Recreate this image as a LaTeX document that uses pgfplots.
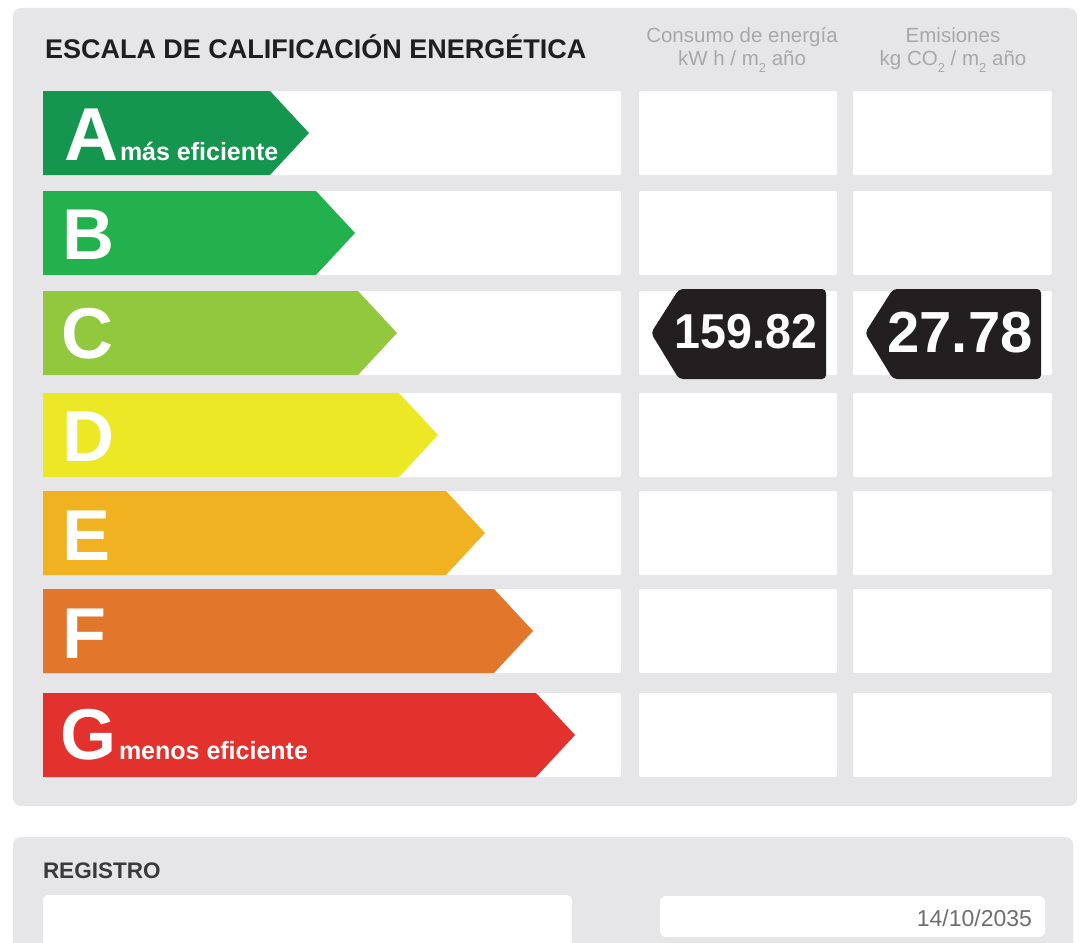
\documentclass[border=0pt]{standalone}
\usepackage{pgfplots}
\pgfplotsset{compat=1.18}
\usepackage{fontspec}
\setmainfont{Liberation Sans}
\definecolor{panel}{RGB}{230,230,232}
\definecolor{colA}{RGB}{20,150,78}
\definecolor{colB}{RGB}{34,177,76}
\definecolor{colC}{RGB}{146,200,62}
\definecolor{colD}{RGB}{236,232,38}
\definecolor{colE}{RGB}{240,178,32}
\definecolor{colF}{RGB}{226,118,42}
\definecolor{colG}{RGB}{227,49,45}
\definecolor{badge}{RGB}{35,31,32}
\definecolor{hdr}{RGB}{168,168,170}
\definecolor{reg}{RGB}{58,58,60}
\definecolor{datec}{RGB}{110,110,112}
\newcommand\rowboxes[2]{%
  \fill[white,rounded corners=2pt] (43,#1) rectangle (621,#2);
  \fill[white,rounded corners=2pt] (639,#1) rectangle (837,#2);
  \fill[white,rounded corners=2pt] (853,#1) rectangle (1052,#2);}
\newcommand\lowtwo{\raisebox{-7pt}{\fontsize{13}{13}\selectfont 2}}
\newsavebox\titlebox
\newsavebox\masbox
\newsavebox\menosbox
\newsavebox\consbox
\newsavebox\unitAbox
\newsavebox\unitBbox
\tikzset{lab/.style={inner sep=0pt,outer sep=0pt},
  big/.style={lab,font=\bfseries\fontsize{72}{72}\selectfont,text=white,anchor=base west},
  sub/.style={lab,anchor=base west}}
\begin{document}
\sbox\titlebox{\bfseries\fontsize{27}{30}\selectfont\color{black!88}ESCALA DE CALIFICACIÓN ENERGÉTICA}%
\sbox\masbox{\bfseries\fontsize{25}{27}\selectfont\color{white}más eficiente}%
\sbox\menosbox{\bfseries\fontsize{25}{27}\selectfont\color{white}menos eficiente}%
\sbox\consbox{\fontsize{20.5}{24}\selectfont\color{hdr}Consumo de energía}%
\sbox\unitAbox{\fontsize{20.5}{24}\selectfont\color{hdr}kW h / m\lowtwo{} año}%
\sbox\unitBbox{\fontsize{20.5}{24}\selectfont\color{hdr}kg CO\lowtwo{} / m\lowtwo{} año}%
\begin{tikzpicture}
\begin{axis}[x=1pt,y=1pt,y dir=reverse,xmin=0,xmax=1089,ymin=0,ymax=942,
  hide axis,scale only axis,clip=false,anchor=south west,at={(0,0)}]
\coordinate (P1) at (0,0);
\coordinate (P2) at (1089,942);
\fill[white] (0,0) rectangle (1089,942);
% panels
\fill[panel,rounded corners=8pt] (13,8) rectangle (1077,806);
\fill[panel,rounded corners=8pt] (13,837) rectangle (1073,975);
% row boxes
\rowboxes{91}{175}
\rowboxes{191}{275}
\rowboxes{291}{375}
\rowboxes{393}{477}
\rowboxes{491}{575}
\rowboxes{589}{673}
\rowboxes{693}{777}
% arrows (class scale)
\addplot[fill=colA,draw=none] coordinates {(43,91) (270,91) (309,133) (270,175) (43,175)} -- cycle;
\addplot[fill=colB,draw=none] coordinates {(43,191) (316,191) (355,233) (316,275) (43,275)} -- cycle;
\addplot[fill=colC,draw=none] coordinates {(43,291) (358,291) (397,333) (358,375) (43,375)} -- cycle;
\addplot[fill=colD,draw=none] coordinates {(43,393) (399,393) (438,435) (399,477) (43,477)} -- cycle;
\addplot[fill=colE,draw=none] coordinates {(43,491) (446,491) (485,533) (446,575) (43,575)} -- cycle;
\addplot[fill=colF,draw=none] coordinates {(43,589) (494,589) (533,631) (494,673) (43,673)} -- cycle;
\addplot[fill=colG,draw=none] coordinates {(43,693) (536,693) (575,735) (536,777) (43,777)} -- cycle;
% letters
\node[big,font=\bfseries\fontsize{75}{75}\selectfont] at (64,160) {A};
\node[sub] at (120,160) {\usebox\masbox};
\node[big] at (62,259) {B};
\node[big] at (61,358) {C};
\node[big] at (62,461) {D};
\node[big] at (62,560) {E};
\node[big] at (62,658) {F};
\node[big] at (60,759) {G};
\node[sub] at (119,759) {\usebox\menosbox};
% title and headers
\node[lab,anchor=base west] at (45,59) {\usebox\titlebox};
\node[lab,anchor=base] at (742,43) {\usebox\consbox};
\node[lab,anchor=base] at (742,66) {\usebox\unitAbox};
\node[lab,anchor=base,font=\fontsize{20.5}{24}\selectfont,text=hdr] at (953,43) {Emisiones};
\node[lab,anchor=base] at (953,66) {\usebox\unitBbox};
% badges
\fill[badge,rounded corners=4pt] (651,333) -- (679,289) -- (826,289) -- (826,379) -- (679,379) -- cycle;
\fill[badge,rounded corners=4pt] (865,333) -- (893,289) -- (1041,289) -- (1041,379) -- (893,379) -- cycle;
\node[lab,anchor=base,text=white,font=\bfseries\fontsize{49}{55}\selectfont,xscale=0.95] at (746,348) {159.82};
\node[lab,anchor=base,text=white,font=\bfseries\fontsize{58}{62}\selectfont] at (960,352) {27.78};
% registro
\node[lab,anchor=base west,text=reg,font=\bfseries\fontsize{22.5}{26}\selectfont] at (43,878) {REGISTRO};
\fill[white,rounded corners=6pt] (43,895) rectangle (572,975);
\fill[white,rounded corners=6pt] (660,896) rectangle (1045,937);
\node[lab,anchor=base east,text=datec,font=\fontsize{23}{26}\selectfont] at (1032,926) {14/10/2035};
\end{axis}
\pgfresetboundingbox
\path[use as bounding box] (P1) rectangle (P2);
\end{tikzpicture}
\end{document}
